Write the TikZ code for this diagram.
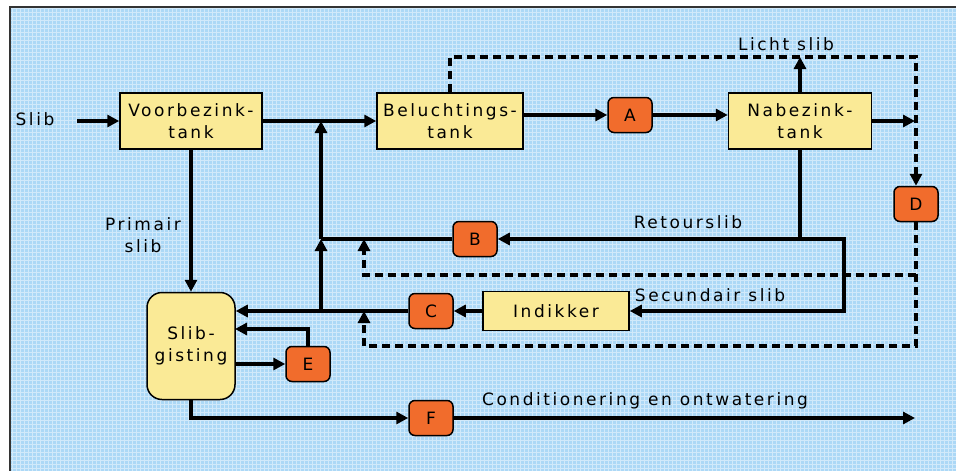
\documentclass[tikz,border=0pt]{standalone}
\usepackage{fontspec}
\newfontfamily\diafont{DejaVu Sans}[LetterSpace=15]
\usetikzlibrary{calc, arrows.meta}

\definecolor{achtergrond}{RGB}{172,216,246}
\definecolor{tankgeel}{RGB}{250,234,150}
\definecolor{staporanje}{RGB}{241,108,44}

\tikzset{
  tank/.style={draw, line width=1.5pt, fill=tankgeel, align=center, inner sep=0pt},
  stap/.style={draw, line width=1.5pt, fill=staporanje, rounded corners=6pt,
    minimum width=44pt, minimum height=35pt, inner sep=0pt},
  lijn/.style={line width=3.2pt},
  flow/.style={lijn, -{Triangle[length=12pt,width=12pt]}},
  dflow/.style={flow, dash pattern=on 8pt off 5pt},
}

\begin{document}
\begin{tikzpicture}[x=1pt, y=-1pt, font=\diafont\fontsize{17}{22}\selectfont]
  \useasboundingbox (0,0) rectangle (956,471);

  % Graph paper background with frame
  \fill[achtergrond] (10,7) rectangle (956,471);
  \draw[white, line width=0.9pt, opacity=0.45, step=4pt] (10,7) grid (956,471);
  \draw[line width=1.5pt, black!80] (10,471) -- (10,7) -- (956,7);

  % Key coordinates (junctions and loose ends)
  \coordinate (slibin) at (77,121);     % sludge inlet
  \coordinate (uitNa) at (915,121);     % effluent after clarifier
  \coordinate (lichtR) at (916,57);     % light sludge, top right bend
  \coordinate (j1) at (321,121);        % riser into aeration line
  \coordinate (j2) at (321,239);        % return sludge joins riser
  \coordinate (j3) at (321,311);        % riser leaves digester line
  \coordinate (secbend) at (844,239);   % secondary sludge branch
  \coordinate (dsplit) at (916,275);    % dashed split under D
  \coordinate (dB) at (364,239);
  \coordinate (dC) at (364,311);
  \coordinate (gistin) at (235,329);    % return from E into digester
  \coordinate (uit) at (915,418);       % to conditioning

  % Tanks
  \node[tank, minimum width=142pt, minimum height=56pt] (voor) at (191,121) {Voorbezink-\\tank};
  \node[tank, minimum width=146pt, minimum height=56pt] (belu) at (450,121) {Beluchtings-\\tank};
  \node[tank, minimum width=143pt, minimum height=56pt] (nabe) at (800,121) {Nabezink-\\tank};
  \node[tank, minimum width=146pt, minimum height=39pt] (indik) at (556,311) {Indikker};
  \node[tank, rounded corners=15pt, minimum width=88pt, minimum height=107pt] (gist) at (191,346) {Slib-\\gisting};

  % Treatment steps
  \foreach \naam/\x/\y in {A/630/115, B/475/239, C/431/311, D/916/204, E/308/364, F/431/418}
    \node[stap] (\naam) at (\x,\y) {\naam};

  % Labels
  \node (lblslib) at (35,119) {Slib};
  \node[align=center] (lblprim) at (143,235) {Primair\\slib};
  \node (lblretour) at (688,222) {Retourslib};
  \node (lbllicht) at (786,44) {Licht slib};
  \node (lblsec) at (710,295) {Secundair slib};
  \node (lblcond) at (645,401) {Conditionering en ontwatering};

  % Main water line
  \draw[flow] (slibin) -- (voor);
  \draw[flow] (voor.east) -- (belu.west);
  \draw[flow] (belu.east |- A.west) -- (A.west);
  \draw[flow] (A.east) -- (A.east -| nabe.west);
  \draw[flow] (nabe.east) -- (uitNa);
  \draw[flow] (nabe.north) -- (nabe.north |- lichtR);
  \draw[dflow] (belu.north) |- (lichtR) -- (D.north);

  % Return and secondary sludge
  \draw[flow] (nabe.south) |- (B.east);
  \draw[flow] (nabe.south |- B.east) -- (secbend) |- (indik.east);
  \draw[lijn] (B.west) -- (j2);
  \draw[flow] (j3) -- (j2);
  \draw[flow] (j2) -- (j1);
  \draw[flow] (indik.west) -- (C.east);
  \draw[flow] (C.west) -- (C.west -| gist.east);

  % Dashed lines from D
  \draw[dflow] (D.south) |- (364,346) -- (dC);
  \draw[dflow] (dsplit) -- (364,275) -- (dB);

  % Sludge digestion
  \draw[flow] (voor.south) -- (gist.north);
  \draw[flow] (gist.east |- E.west) -- (E.west);
  \draw[flow] (E.north) |- (gistin);
  \draw[flow] (gist.south) |- (F.west);
  \draw[flow] (F.east) -- (uit);
\end{tikzpicture}
\end{document}
